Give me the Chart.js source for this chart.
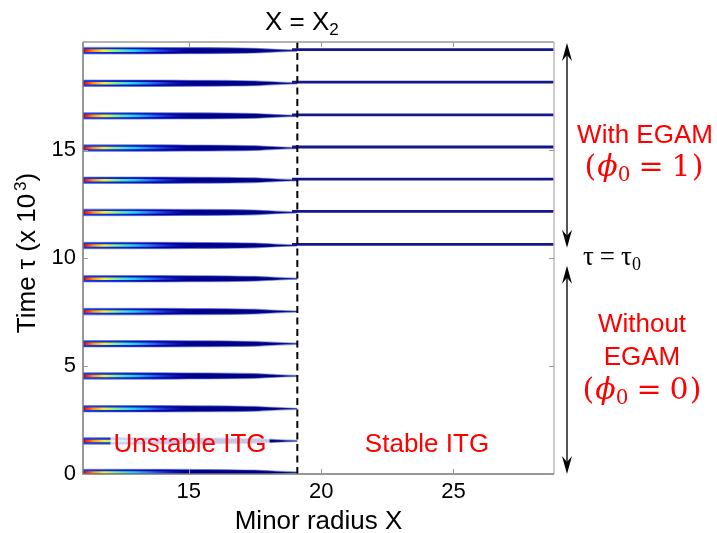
<!DOCTYPE html>
<html><head><meta charset="utf-8">
<script src="https://cdn.jsdelivr.net/npm/chart.js@4.4.1/dist/chart.umd.min.js"></script>
<style>html,body{margin:0;padding:0;background:#fff;}canvas{display:block;}</style>
</head><body>
<canvas id="c" width="717" height="533"></canvas>
<script>
// ---- data ----
const xTicks = [15, 20, 25];
const yTicks = [0, 5, 10, 15];
const unstableTimes = [0.07, 1.53, 3.02, 4.54, 6.03, 7.52, 9.04];   // pulses without EGAM
const egamTimes = [10.58, 12.11, 13.60, 15.09, 16.58, 18.09, 19.60]; // pulses with EGAM
const bandX = [11, 13, 15, 16.5, 17.5, 18.3, 19.1];
const bandHalfWidth = [0.15, 0.15, 0.14, 0.13, 0.11, 0.06, 0.025];
const coreX = [11, 15];
const stableX = [18.9, 28.8];
const stableOffset = 0.05;
const xBoundary = 19.1;
const tauSplit = 10.1;

const SANS = '"Liberation Sans", Arial, Helvetica, sans-serif';
const SERIF = '"DejaVu Serif", "Liberation Serif", serif';

function bandGradient(c) {
  const ch = c.chart; if (!ch.chartArea) return '#000090';
  const x = ch.scales.x;
  const g = ch.ctx.createLinearGradient(x.getPixelForValue(bandX[0]), 0, x.getPixelForValue(bandX[bandX.length - 1]), 0);
  g.addColorStop(0, '#1838f0'); g.addColorStop(0.18, '#0a20c8'); g.addColorStop(0.36, '#000098'); g.addColorStop(1, '#000078');
  return g;
}
function coreGradient(c) {
  const ch = c.chart; if (!ch.chartArea) return '#ff0000';
  const x = ch.scales.x;
  const g = ch.ctx.createLinearGradient(x.getPixelForValue(coreX[0]), 0, x.getPixelForValue(coreX[1]), 0);
  g.addColorStop(0, '#a00000'); g.addColorStop(0.03, '#ff2000'); g.addColorStop(0.1, '#ff9a00');
  g.addColorStop(0.2, '#f4f030'); g.addColorStop(0.33, '#70f0a0'); g.addColorStop(0.48, '#20d0f4');
  g.addColorStop(0.7, '#2050f0'); g.addColorStop(1, 'rgba(10,32,200,0)');
  return g;
}
const halo = 'rgba(90,110,205,0.55)';

function bandPoints(t, sign) { return bandX.map((xv, i) => ({ x: xv, y: t + sign * bandHalfWidth[i] })); }

const datasets = [];
unstableTimes.concat(egamTimes).forEach(t => {
  datasets.push({ data: bandPoints(t, 1), borderColor: halo, borderWidth: 1.2, fill: false, order: 2, cubicInterpolationMode: 'monotone' });
  datasets.push({ data: bandPoints(t, -1), borderColor: halo, borderWidth: 1.2, fill: '-1', backgroundColor: bandGradient, order: 2, cubicInterpolationMode: 'monotone' });
  datasets.push({ data: coreX.map(xv => ({ x: xv, y: t })), borderColor: coreGradient, borderWidth: 2.6, fill: false, order: 0, borderCapStyle: 'butt' });
});
egamTimes.forEach(t => {
  datasets.push({ data: stableX.map(xv => ({ x: xv, y: t + stableOffset })), borderColor: '#16168a', borderWidth: 2.8, fill: false, order: 1 });
});
datasets.push({ data: [{ x: xBoundary, y: 0 }, { x: xBoundary, y: 20 }], borderColor: '#000', borderWidth: 2, borderDash: [7, 4.5], fill: false, order: -1 });

function drawPieces(ctx, pieces, cx, baseline, align) {
  let total = 0;
  pieces.forEach(p => { if (p.gap) { total += p.gap; return; } ctx.font = p.f; p.w = ctx.measureText(p.t).width; total += p.w; });
  let xx = align === 'left' ? cx : cx - total / 2;
  ctx.textAlign = 'left'; ctx.textBaseline = 'alphabetic';
  pieces.forEach(p => { if (p.gap) { xx += p.gap; return; } ctx.font = p.f; ctx.fillText(p.t, xx, baseline + (p.dy || 0)); xx += p.w; });
}
function arrowHead(ctx, x, tipY, dir) {
  ctx.beginPath();
  ctx.moveTo(x, tipY);
  ctx.lineTo(x - 5, tipY + dir * 18);
  ctx.lineTo(x, tipY + dir * 12);
  ctx.lineTo(x + 5, tipY + dir * 18);
  ctx.closePath();
  ctx.fill();
}
function doubleArrow(ctx, x, y1, y2) {
  ctx.strokeStyle = '#555'; ctx.lineWidth = 2;
  ctx.beginPath(); ctx.moveTo(x, y1 + 8); ctx.lineTo(x, y2 - 8); ctx.stroke();
  ctx.fillStyle = '#000';
  arrowHead(ctx, x, y1, 1); arrowHead(ctx, x, y2, -1);
}

const overlay = {
  id: 'overlay',
  afterDatasetsDraw(chart) {
    const { ctx, chartArea: a, scales: { x, y } } = chart;
    ctx.save();
    // frame
    ctx.lineWidth = 1.5;
    ctx.strokeStyle = '#9a9a9a';
    ctx.beginPath(); ctx.moveTo(a.left, a.top); ctx.lineTo(a.right, a.top); ctx.stroke();
    ctx.strokeStyle = '#bdbdbd';
    ctx.beginPath(); ctx.moveTo(a.right, a.top); ctx.lineTo(a.right, a.bottom); ctx.stroke();
    ctx.strokeStyle = '#777';
    ctx.beginPath(); ctx.moveTo(a.left, a.top); ctx.lineTo(a.left, a.bottom); ctx.lineTo(a.right, a.bottom); ctx.stroke();
    // inward ticks
    ctx.strokeStyle = '#999'; ctx.lineWidth = 1;
    xTicks.forEach(v => { const px = Math.round(x.getPixelForValue(v)) + 0.5;
      ctx.beginPath(); ctx.moveTo(px, a.bottom); ctx.lineTo(px, a.bottom - 5); ctx.moveTo(px, a.top); ctx.lineTo(px, a.top + 5); ctx.stroke(); });
    yTicks.forEach(v => { const py = Math.round(y.getPixelForValue(v)) + 0.5;
      ctx.beginPath(); ctx.moveTo(a.left, py); ctx.lineTo(a.left + 5, py); ctx.moveTo(a.right, py); ctx.lineTo(a.right - 5, py); ctx.stroke(); });

    // region labels
    ctx.font = '26px ' + SANS;
    const uw = ctx.measureText('Unstable ITG').width;
    const ucx = 190, uBase = 452;
    ctx.fillStyle = 'rgba(255,255,255,0.78)';
    ctx.fillRect(ucx - uw / 2 - 3, 429, uw + 6, 27);
    ctx.fillStyle = '#ff0000'; ctx.textAlign = 'center'; ctx.textBaseline = 'alphabetic';
    ctx.fillText('Unstable ITG', ucx, uBase);
    ctx.fillText('Stable ITG', 427, 452);

    // top label X = X2
    ctx.fillStyle = '#000';
    drawPieces(ctx, [{ t: 'X = X', f: '26px ' + SANS }, { t: '2', f: '17px ' + SANS, dy: 5 }], 265, 30, 'left');

    // right annotations
    const ax = a.right + 13;
    const ts = y.getPixelForValue(tauSplit);
    doubleArrow(ctx, ax, a.top + 1, ts - 8);
    doubleArrow(ctx, ax, ts + 10, a.bottom);
    ctx.fillStyle = '#000';
    drawPieces(ctx, [{ t: 'τ', f: '27px "Liberation Serif", serif' }, { gap: 6 }, { t: '=', f: '27px "Liberation Serif", serif' }, { gap: 6 },
      { t: 'τ', f: '27px "Liberation Serif", serif' }, { t: '0', f: '18px "Liberation Serif", serif', dy: 5 }], 583, 265, 'left');

    ctx.fillStyle = '#ff0000';
    ctx.font = '26px ' + SANS; ctx.textAlign = 'center'; ctx.textBaseline = 'alphabetic';
    ctx.fillText('With EGAM', 645, 143);
    ctx.fillText('Without', 642, 332);
    ctx.fillText('EGAM', 642, 365);
    const phi = v => [{ t: '(', f: '30px ' + SERIF }, { gap: 1 }, { t: 'ϕ', f: 'italic 30px ' + SERIF }, { t: '0', f: '20px ' + SERIF, dy: 5 },
      { gap: 8 }, { t: '=', f: '30px ' + SERIF }, { gap: 8 }, { t: v, f: '30px ' + SERIF }, { gap: 1 }, { t: ')', f: '30px ' + SERIF }];
    drawPieces(ctx, phi('1'), 644, 176);
    drawPieces(ctx, phi('0'), 642, 399);

    // y axis title
    ctx.fillStyle = '#000';
    ctx.translate(35, 253); ctx.rotate(-Math.PI / 2);
    drawPieces(ctx, [{ t: 'Time τ (x 10', f: '26px ' + SANS }, { gap: 3 }, { t: '3', f: '17px ' + SANS, dy: -9 }, { t: ')', f: '26px ' + SANS }], 0, 0);
    ctx.restore();
  }
};

new Chart(document.getElementById('c'), {
  type: 'line',
  data: { datasets },
  options: {
    responsive: false, animation: false, devicePixelRatio: 1,
    layout: { padding: { left: 0, top: 42, right: 163, bottom: 0 } },
    elements: { point: { radius: 0, hoverRadius: 0 }, line: { tension: 0 } },
    plugins: { legend: { display: false }, tooltip: { enabled: false }, title: { display: false } },
    events: [],
    scales: {
      x: {
        type: 'linear', min: 11, max: 28.8,
        afterBuildTicks: s => { s.ticks = xTicks.map(v => ({ value: v })); },
        afterFit: s => { s.height = 59; },
        grid: { display: false, drawTicks: false }, border: { display: false },
        ticks: { color: '#000', font: { size: 22, family: SANS }, padding: 5, maxRotation: 0 },
        title: { display: true, text: 'Minor radius X', color: '#000', font: { size: 26, family: SANS }, padding: { top: 0, bottom: -4 } }
      },
      y: {
        type: 'linear', min: 0, max: 20,
        afterBuildTicks: s => { s.ticks = yTicks.map(v => ({ value: v })); },
        afterFit: s => { s.width = 83; },
        grid: { display: false, drawTicks: false }, border: { display: false },
        ticks: { color: '#000', font: { size: 22, family: SANS }, padding: 7 }
      }
    }
  },
  plugins: [overlay]
});
</script>
</body></html>
